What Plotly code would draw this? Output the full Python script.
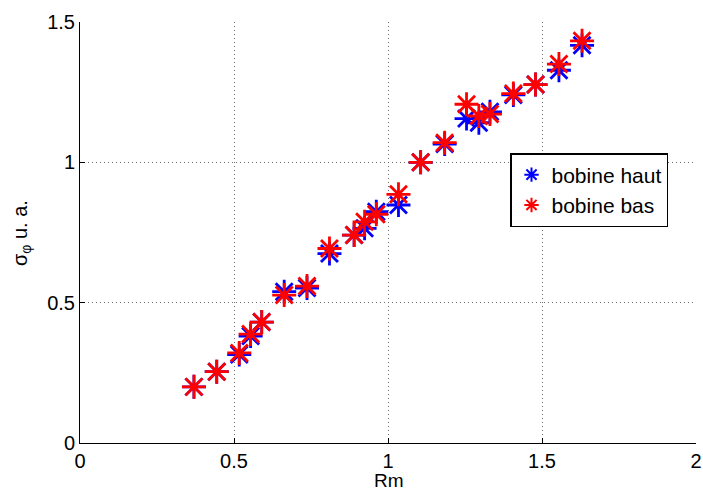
import plotly.graph_objects as go

rm = [0.370, 0.444, 0.517, 0.554, 0.590, 0.663, 0.737, 0.810, 0.890, 0.924, 0.962, 1.034, 1.106, 1.184, 1.255, 1.295, 1.331, 1.407, 1.479, 1.555, 1.630]
haut = [0.200, 0.254, 0.315, 0.381, 0.431, 0.539, 0.552, 0.675, 0.741, 0.765, 0.824, 0.848, 1.000, 1.065, 1.156, 1.141, 1.180, 1.240, 1.277, 1.328, 1.417]
bas = [0.200, 0.254, 0.321, 0.388, 0.431, 0.527, 0.559, 0.693, 0.741, 0.788, 0.815, 0.886, 1.000, 1.070, 1.207, 1.165, 1.172, 1.245, 1.277, 1.350, 1.433]
x_ticks = [0, 0.5, 1, 1.5, 2]
x_labels = ["0", "0.5", "1", "1.5", "2"]
y_ticks = [0, 0.5, 1, 1.5]
y_labels = ["0", "0.5", "1", "1.5"]

font = "Liberation Sans, Arial, Helvetica, sans-serif"
L, R, T, B = 80, 7, 22, 47
W, H = 703, 490
pw, ph = W - L - R, H - T - B

fig = go.Figure()
fig.add_trace(go.Scatter(x=rm, y=haut, mode="markers", name="bobine haut",
                         marker=dict(symbol="asterisk-open", size=20, color="blue",
                                     line=dict(color="blue", width=2.8))))
fig.add_trace(go.Scatter(x=rm, y=bas, mode="markers", name="bobine bas",
                         marker=dict(symbol="asterisk-open", size=20, color="red",
                                     line=dict(color="red", width=2.8))))

axis_common = dict(showgrid=True, gridcolor="#6e6e6e", griddash="1px,3px", gridwidth=1,
                   showline=True, linecolor="black", linewidth=1, mirror=False,
                   ticks="inside", ticklen=5, tickcolor="black", zeroline=False,
                   automargin=False, tickfont=dict(size=20))

fig.update_layout(
    width=W, height=H,
    margin=dict(l=L, r=R, t=T, b=B),
    paper_bgcolor="white", plot_bgcolor="white",
    font=dict(family=font, size=20, color="black"),
    showlegend=True,
    legend=dict(x=(510 - L) / pw, y=(H - B - 153) / ph, xanchor="left", yanchor="top",
                bgcolor="white", bordercolor="black", borderwidth=1.5,
                font=dict(size=21), itemsizing="constant", tracegroupgap=0),
    xaxis=dict(range=[0, 2], tickvals=x_ticks, ticktext=x_labels, **axis_common),
    yaxis=dict(range=[0, 1.5], tickvals=y_ticks, ticktext=y_labels, **axis_common),
    annotations=[
        dict(text="Rm", xref="paper", yref="paper", x=(389 - L) / pw, y=-(480 - (H - B)) / ph,
             xanchor="center", yanchor="middle", showarrow=False, font=dict(size=19)),
        dict(text="σ<sub>φ</sub> u. a.", xref="paper", yref="paper", x=-(L - 21) / pw,
             y=(H - B - 233) / ph, xanchor="center", yanchor="middle", textangle=-90,
             showarrow=False, font=dict(size=20)),
    ],
)

fig.write_html("out.html", post_script="document.body.style.margin='0';",
               config={"displayModeBar": False})
